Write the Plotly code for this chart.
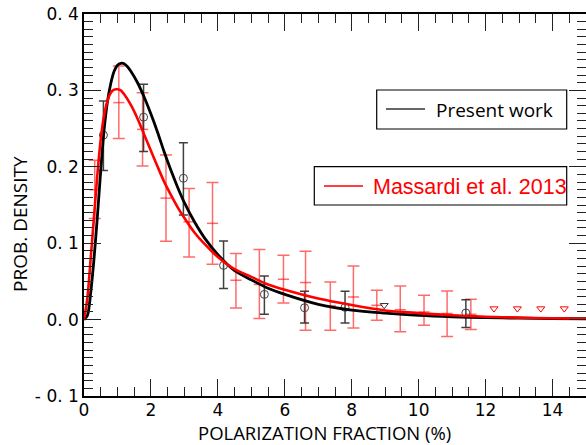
import plotly.graph_objects as go

# ---- data ----
# model curves
pw_curve_x = [0.0, 0.1, 0.2, 0.3, 0.4, 0.5, 0.6, 0.7, 0.8, 0.9, 1.0, 1.1, 1.2, 1.3, 1.4, 1.6, 1.8, 2.0,
              2.2, 2.4, 2.6, 2.8, 3.0, 3.3, 3.6, 4.0, 4.5, 5.0, 5.5, 6.0, 7.0, 8.0, 9.0, 10.0, 11.0,
              12.0, 13.0, 14.0, 15.0]
pw_curve_y = [0.0, 0.005, 0.035, 0.08, 0.135, 0.195, 0.248, 0.285, 0.309, 0.325, 0.333, 0.3355, 0.335,
              0.331, 0.325, 0.310, 0.291, 0.269, 0.245, 0.219, 0.195, 0.173, 0.153, 0.128, 0.107, 0.085,
              0.064, 0.052, 0.041, 0.033, 0.020, 0.0125, 0.0085, 0.0055, 0.0037, 0.0026, 0.0019, 0.0014,
              0.0011]
m13_curve_x = [0.0, 0.1, 0.2, 0.3, 0.4, 0.5, 0.6, 0.7, 0.8, 0.9, 1.0, 1.1, 1.2, 1.4, 1.6, 1.8, 2.0,
               2.2, 2.4, 2.6, 2.8, 3.0, 3.3, 3.6, 4.0, 4.5, 5.0, 5.5, 6.0, 7.0, 8.0, 9.0, 10.0, 11.0,
               12.0, 13.0, 14.0, 15.0]
m13_curve_y = [0.0, 0.028, 0.08, 0.135, 0.19, 0.236, 0.267, 0.286, 0.297, 0.301, 0.3015, 0.300, 0.295,
               0.281, 0.263, 0.242, 0.221, 0.200, 0.180, 0.163, 0.147, 0.133, 0.114, 0.099, 0.082,
               0.066, 0.056, 0.046, 0.039, 0.0275, 0.019, 0.012, 0.0085, 0.0056, 0.0038, 0.0026,
               0.0018, 0.0012]

# Present work binned data
pw_x = [0.58, 1.78, 2.97, 4.17, 5.39, 6.59, 7.80, 11.41]
pw_y = [0.2415, 0.265, 0.185, 0.071, 0.033, 0.0155, 0.016, 0.0087]
pw_hi = [0.286, 0.308, 0.2315, 0.103, 0.057, 0.037, 0.037, 0.026]
pw_lo = [0.195, 0.220, 0.137, 0.0406, 0.007, -0.0045, -0.0045, -0.0105]
pw_lim_x = [8.97]
pw_lim_y = [0.0187]

# Massardi et al. 2013 binned data
m13_x = [0.32, 1.04, 1.75, 2.45, 3.14, 3.84, 4.54, 5.24, 5.96, 6.62, 7.36, 8.05, 8.75, 9.45,
         10.16, 10.85, 11.56]
m13_y = [0.170, 0.284, 0.249, 0.159, 0.128, 0.126, 0.0515, 0.046, 0.0528, 0.0485, 0.018, 0.0296,
         0.0187, 0.013, 0.010, 0.008, 0.007]
m13_hi = [0.2086, 0.332, 0.297, 0.2153, 0.1717, 0.1795, 0.0865, 0.0917, 0.0843, 0.0895, 0.0493,
          0.070, 0.0384, 0.044, 0.0318, 0.0375, 0.0266]
m13_lo = [0.1324, 0.237, 0.201, 0.1026, 0.082, 0.0725, 0.0152, 0.0013, 0.0218, -0.014, -0.014,
          -0.011, -0.001, -0.016, -0.0075, -0.022, -0.013]
m13_lim_x = [12.25, 12.95, 13.65, 14.35]
m13_lim_y = [0.0144, 0.0144, 0.0144, 0.0144]

x_ticks = [0, 2, 4, 6, 8, 10, 12, 14]
x_ticktext = ["0", "2", "4", "6", "8", "10", "12", "14"]
y_ticks = [-0.1, 0.0, 0.1, 0.2, 0.3, 0.4]
y_ticktext = ["- 0. 1", "0. 0", "0. 1", "0. 2", "0. 3", "0. 4"]

legend_names = ["Present work", "Massardi et al. 2013"]

# ---- figure ----
W, H = 586, 445
L, R, T, B = 84, 0, 14, 49
PW, PH = W - L - R, H - T - B


def px(xp):
    return (xp - L) / PW


def py(yp):
    return (H - B - yp) / PH


RED_BAR = "rgba(255,0,0,0.58)"
BLK_BAR = "rgba(30,30,30,0.85)"

fig = go.Figure()

fig.add_trace(go.Scatter(
    x=m13_x, y=m13_y, mode="markers",
    marker=dict(symbol="line-ew", size=8, line=dict(color=RED_BAR, width=1.5)),
    error_y=dict(type="data", symmetric=False,
                 array=[h - v for h, v in zip(m13_hi, m13_y)],
                 arrayminus=[v - l for v, l in zip(m13_y, m13_lo)],
                 color=RED_BAR, thickness=1.5, width=6),
    showlegend=False, hoverinfo="skip"))

fig.add_trace(go.Scatter(
    x=pw_x, y=pw_y, mode="markers",
    marker=dict(symbol="circle-open", size=8, color="#444", line=dict(width=1)),
    error_y=dict(type="data", symmetric=False,
                 array=[h - v for h, v in zip(pw_hi, pw_y)],
                 arrayminus=[v - l for v, l in zip(pw_y, pw_lo)],
                 color=BLK_BAR, thickness=1.5, width=4.5),
    showlegend=False, hoverinfo="skip"))

fig.add_trace(go.Scatter(
    x=pw_lim_x, y=pw_lim_y, mode="markers",
    marker=dict(symbol="triangle-down-open", size=7, color="#333", line=dict(width=1)),
    showlegend=False))
fig.add_trace(go.Scatter(
    x=m13_lim_x, y=m13_lim_y, mode="markers",
    marker=dict(symbol="triangle-down-open", size=7, color="red", line=dict(width=1)),
    showlegend=False))

fig.add_trace(go.Scatter(
    x=pw_curve_x, y=pw_curve_y, mode="lines", name=legend_names[0],
    line=dict(color="black", width=2.8, shape="spline", smoothing=0.8), showlegend=False))
fig.add_trace(go.Scatter(
    x=m13_curve_x, y=m13_curve_y, mode="lines", name=legend_names[1],
    line=dict(color="red", width=2.6, shape="spline", smoothing=0.8), showlegend=False))

tickfont = dict(family="DejaVu Sans", size=17, color="black")
fig.update_xaxes(
    range=[0, 15], showline=True, linecolor="black", linewidth=1.5, mirror="ticks",
    ticks="inside", ticklen=17, tickwidth=1.2, tickcolor="#222",
    tickmode="array", tickvals=x_ticks, ticktext=x_ticktext, tickfont=tickfont,
    ticklabelstandoff=-2,
    minor=dict(ticks="inside", ticklen=9, tickwidth=1.2, tickcolor="#222", dtick=0.5, tick0=0),
    showgrid=False, zeroline=False)
fig.update_yaxes(
    range=[-0.1, 0.4], showline=True, linecolor="black", linewidth=1.5, mirror="ticks",
    ticks="inside", ticklen=17, tickwidth=1.2, tickcolor="#222",
    tickmode="array", tickvals=y_ticks, ticktext=y_ticktext, tickfont=tickfont,
    minor=dict(ticks="inside", ticklen=9, tickwidth=1.2, tickcolor="#222", dtick=0.01, tick0=0),
    showgrid=False, zeroline=False)

shapes = [
    dict(type="rect", xref="paper", yref="paper", x0=px(376.7), x1=px(566.7), y0=py(129), y1=py(90),
         line=dict(color="black", width=1.2), fillcolor="white", layer="above"),
    dict(type="line", xref="paper", yref="paper", x0=px(386), x1=px(425), y0=py(109), y1=py(109),
         line=dict(color="#333", width=1.5)),
    dict(type="rect", xref="paper", yref="paper", x0=px(314.3), x1=px(566.7), y0=py(205), y1=py(166.7),
         line=dict(color="black", width=1.2), fillcolor="white", layer="above"),
    dict(type="line", xref="paper", yref="paper", x0=px(324), x1=px(363), y0=py(186), y1=py(186),
         line=dict(color="red", width=1.5)),
]

annotations = [
    dict(text=legend_names[0], xref="paper", yref="paper", x=px(434), y=py(109.5),
         xanchor="left", yanchor="middle", showarrow=False,
         font=dict(family="Open Sans", size=19, color="black")),
    dict(text=legend_names[1], xref="paper", yref="paper", x=px(371), y=py(186.5),
         xanchor="left", yanchor="middle", showarrow=False,
         font=dict(family="Liberation Sans", size=21.5, color="red")),
    dict(text="POLARIZATION FRACTION (%)", xref="paper", yref="paper", x=px(324), y=py(432),
         xanchor="center", yanchor="middle", showarrow=False,
         font=dict(family="Open Sans", size=18.5, color="black")),
    dict(text="PROB. DENSITY", xref="paper", yref="paper", x=px(20), y=py(224),
         xanchor="center", yanchor="middle", showarrow=False, textangle=-90,
         font=dict(family="Open Sans", size=19, color="black")),
]

fig.update_layout(
    width=W, height=H, margin=dict(l=L, r=R, t=T, b=B, autoexpand=False),
    paper_bgcolor="white", plot_bgcolor="white", showlegend=False,
    shapes=shapes, annotations=annotations)

fig.write_html(
    "out.html",
    config={"responsive": False, "displayModeBar": False},
    post_script="document.body.style.margin='0';document.body.style.padding='0';"
                "document.body.style.overflow='hidden';"
                "document.documentElement.style.overflow='hidden';")
